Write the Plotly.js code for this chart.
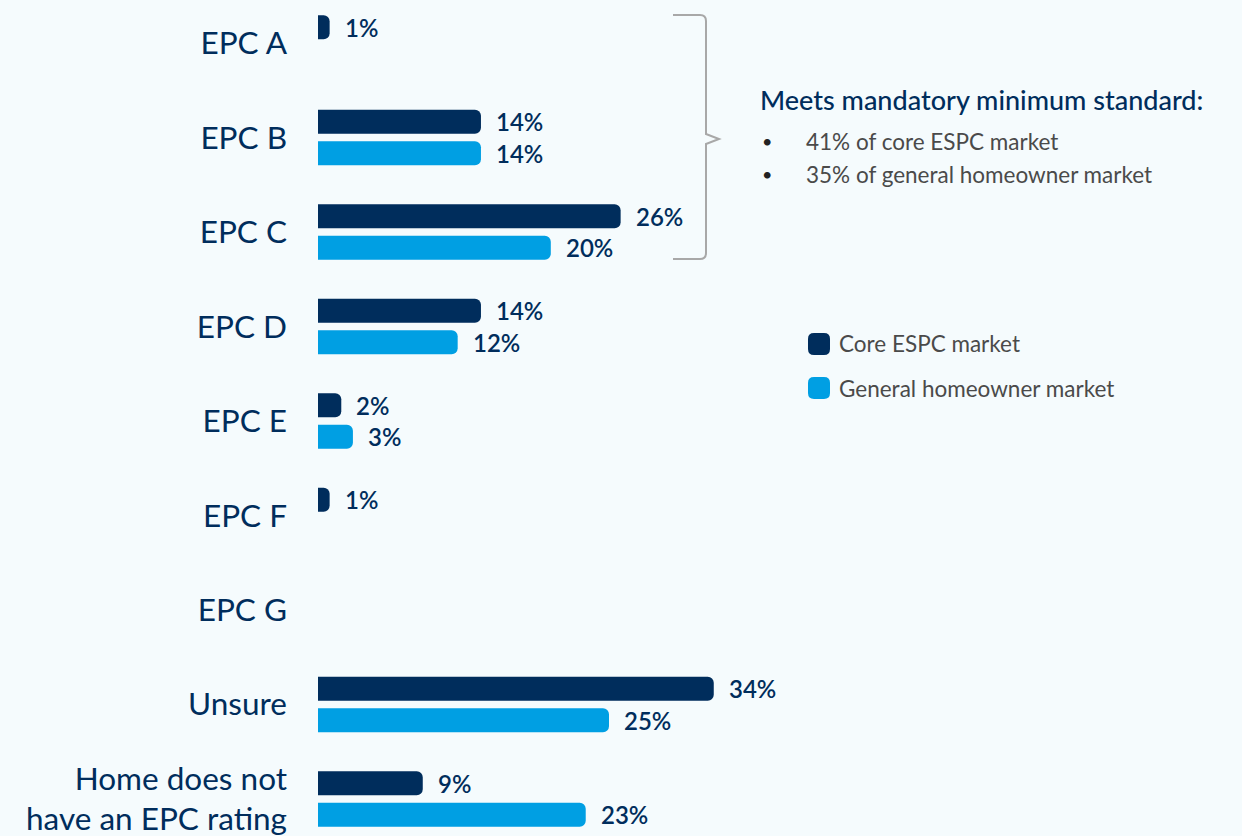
<!DOCTYPE html>
<html>
<head>
<meta charset="utf-8">
<script src="https://cdn.plot.ly/plotly-3.0.1.min.js"></script>
<style>
  html, body { margin: 0; padding: 0; background: #F5FBFD; }
  #chart { width: 1242px; height: 836px; }
</style>
</head>
<body>
<div id="chart"></div>
<script>
// ---- Data ----
const categories = ["EPC A", "EPC B", "EPC C", "EPC D", "EPC E", "EPC F", "EPC G", "Unsure", "Home does not<br>have an EPC rating"];
const coreESPC = [1, 14, 26, 14, 2, 1, null, 34, 9];
const generalHomeowner = [null, 14, 20, 12, 3, null, null, 25, 23];
const seriesNames = ["Core ESPC market", "General homeowner market"];
const calloutTitle = "Meets mandatory minimum standard:";
const calloutBullets = ["41% of core ESPC market", "35% of general homeowner market"];

// ---- Styles ----
const NAVY = "#002D5C";
const BLUE = "#009FE3";
const GREY_TXT = "#4A4A4A";
const BG = "#F5FBFD";
const FONT = "Lato, 'Open Sans', sans-serif";

// Plot area in pixels
const L = 318, T = 0, W = 924, H = 836;
const px = x => (x - L) / W;
const py = y => 1 - (y - T) / H;
const P = (x, y) => px(x).toFixed(5) + "," + py(y).toFixed(5);

const traces = [
  {
    type: "bar", orientation: "h", name: seriesNames[0],
    y: categories, x: coreESPC,
    marker: { color: NAVY, cornerradius: 6 },
    showlegend: false, hoverinfo: "skip"
  },
  {
    type: "bar", orientation: "h", name: seriesNames[1],
    y: categories, x: generalHomeowner,
    marker: { color: BLUE, cornerradius: 6 },
    showlegend: false, hoverinfo: "skip"
  }
];

const annotations = [];
const SHIFT = 15.75;
[coreESPC, generalHomeowner].forEach((arr, s) => {
  arr.forEach((v, i) => {
    if (v === null || v === undefined) return;
    annotations.push({
      x: v, y: categories[i], xref: "x", yref: "y",
      text: v + "%", showarrow: false,
      xanchor: "left", yanchor: "middle",
      xshift: 13, yshift: s === 0 ? SHIFT : -SHIFT,
      font: { family: FONT, size: 24, color: NAVY, weight: 600 }
    });
  });
});

// Callout text
annotations.push({
  xref: "paper", yref: "paper", x: px(758), y: py(100),
  xanchor: "left", yanchor: "middle", showarrow: false,
  text: calloutTitle,
  font: { family: FONT, size: 27, color: NAVY, weight: 500 }
});
calloutBullets.forEach((t, i) => {
  const yy = 141 + i * 33;
  annotations.push({
    xref: "paper", yref: "paper", x: px(760), y: py(yy),
    xanchor: "left", yanchor: "middle", showarrow: false,
    text: "•", font: { family: FONT, size: 18, color: "#222" }
  });
  annotations.push({
    xref: "paper", yref: "paper", x: px(804), y: py(yy),
    xanchor: "left", yanchor: "middle", showarrow: false,
    text: t, font: { family: FONT, size: 22.5, color: GREY_TXT }
  });
});

// Legend (manual)
const legendColors = [NAVY, BLUE];
const shapes = [];
function roundRect(x0, y0, x1, y1, r) {
  return "M" + P(x0 + r, y0) + " L" + P(x1 - r, y0) + " Q" + P(x1, y0) + " " + P(x1, y0 + r) +
    " L" + P(x1, y1 - r) + " Q" + P(x1, y1) + " " + P(x1 - r, y1) +
    " L" + P(x0 + r, y1) + " Q" + P(x0, y1) + " " + P(x0, y1 - r) +
    " L" + P(x0, y0 + r) + " Q" + P(x0, y0) + " " + P(x0 + r, y0) + " Z";
}
seriesNames.forEach((n, i) => {
  const yc = 344 + i * 44;
  shapes.push({
    type: "path", xref: "paper", yref: "paper",
    path: roundRect(808, yc - 11, 830, yc + 11, 6),
    fillcolor: legendColors[i], line: { width: 0 }
  });
  annotations.push({
    xref: "paper", yref: "paper", x: px(837), y: py(yc),
    xanchor: "left", yanchor: "middle", showarrow: false,
    text: n, font: { family: FONT, size: 22.5, color: GREY_TXT }
  });
});

// Bracket
shapes.push({
  type: "path", xref: "paper", yref: "paper",
  path: "M" + P(673, 15) + " L" + P(700, 15) + " Q" + P(706, 15) + " " + P(706, 21) +
        " L" + P(706, 134) + " L" + P(719, 139) + " L" + P(706, 144) +
        " L" + P(706, 253) + " Q" + P(706, 259) + " " + P(700, 259) + " L" + P(673, 259),
  line: { color: "#A8A8A8", width: 2 }, fillcolor: "rgba(0,0,0,0)"
});

const layout = {
  width: 1242, height: 836,
  margin: { l: L, r: 1242 - L - W, t: T, b: 836 - T - H, pad: 0 },
  paper_bgcolor: BG, plot_bgcolor: BG,
  barmode: "group", bargap: 0.333, bargroupgap: 0.24,
  showlegend: false,
  font: { family: FONT },
  xaxis: {
    range: [0, W / 11.64], showgrid: false, zeroline: false,
    showticklabels: false, showline: false, ticks: "", fixedrange: true
  },
  yaxis: {
    type: "category", categoryorder: "array", categoryarray: categories,
    range: [8.392, -0.455], showgrid: false, zeroline: false, showline: false,
    ticks: "", ticklabelstandoff: 30,
    tickfont: { family: FONT, size: 31.5, color: NAVY }, fixedrange: true
  },
  annotations: annotations,
  shapes: shapes
};

Plotly.newPlot("chart", traces, layout, { displayModeBar: false, staticPlot: true });
</script>
</body>
</html>
